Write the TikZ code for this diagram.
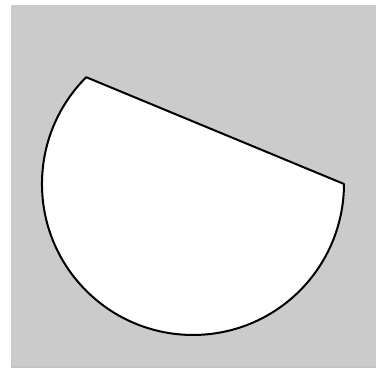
\documentclass[tikz,border=0pt]{standalone}
\usepackage{tikz}
\usetikzlibrary{calc}
\definecolor{fondo}{HTML}{CBCBCB}
\definecolor{sombra}{HTML}{9A9A9A}
\tikzset{
  panel/.style={fill=fondo, draw=none},
  segmento/.style={fill=white, draw=black, line width=2pt, line join=round}
}

\begin{document}
\begin{tikzpicture}[x=1pt, y=-1pt]
    % --- Marco ---
    \useasboundingbox (0,0) rectangle (376,372);
    \fill[sombra!60] (11,365) rectangle (376,368);
    \fill[panel] (11,5) rectangle (376,366);

    % --- Segmento circular ---
    \coordinate (centro) at (193,184);
    \draw[segmento] ($(centro)+(-106.8,-106.8)$) arc[start angle=225, end angle=0, radius=151] -- cycle;
\end{tikzpicture}
\end{document}
